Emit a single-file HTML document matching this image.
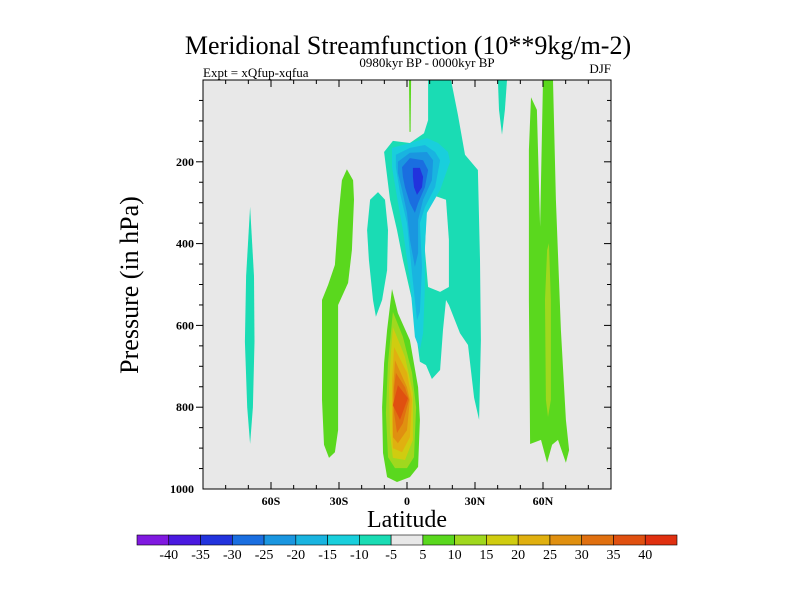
<!DOCTYPE html>
<html><head><meta charset="utf-8"><style>
html,body{margin:0;padding:0;background:#fff;}
svg{display:block;}
text{font-family:"Liberation Serif",serif;fill:#000;}
</style></head><body>
<svg id="chart" width="800" height="600" viewBox="0 0 800 600">
<text x="408" y="54" font-size="26" text-anchor="middle">Meridional Streamfunction (10**9kg/m-2)</text>
<text x="203" y="77" font-size="13">Expt = xQfup-xqfua</text>
<text x="427" y="67" font-size="13" text-anchor="middle">0980kyr BP - 0000kyr BP</text>
<text x="611" y="73" font-size="13" text-anchor="end">DJF</text>
<rect x="203" y="80" width="408" height="409" fill="#e8e8e8"/>
<g id="contours"></g>
<rect x="203" y="80" width="408" height="409" fill="none" stroke="#000" stroke-width="1"/>
<g id="axes"></g>
<text transform="translate(138,285) rotate(-90)" font-size="26" text-anchor="middle">Pressure (in hPa)</text>
<text x="407" y="527" font-size="24" text-anchor="middle">Latitude</text>
<g id="colorbar"></g>
</svg>
<script>
// ---- data ----
const levels = [-40,-35,-30,-25,-20,-15,-10,-5,5,10,15,20,25,30,35,40];
const levelColors = ["#8019e0","#4a19e0","#2233dd","#1a6ee0","#1a96e0","#19b4e0","#19cfdc","#1adcb4","#e8e8e8","#5ad81e","#a0d81e","#d0cc10","#e0b010","#e09010","#e07010","#e05010","#e03010"];
const xTickLabels = ["60S","30S","0","30N","60N"];
const xTickLats = [-60,-30,0,30,60];
const yTickLabels = ["200","400","600","800","1000"];
const yTickVals = [200,400,600,800,1000];
// contour regions: band index into levelColors, polygon vertices as [lat, hPa]
const regionTealSH = {band:7, pts:[[-69.2,310],[-67.5,480],[-67.3,640],[-68,800],[-69.2,890],[-70.5,800],[-71.5,640],[-71,480]]};
const regionGreenSH = {band:9, pts:[[-26.5,218],[-23.8,245],[-23.4,293],[-24.3,416],[-26,496],[-30.4,550],[-30.4,856],[-31.8,910],[-34.4,924],[-36.6,892],[-37.5,782],[-37.5,538],[-34.8,501],[-31.8,452],[-30.4,342],[-28.7,245]]};
const regionTealEq = {band:7, pts:[[-12.8,274],[-9.7,293],[-8.4,367],[-8.8,465],[-11,538],[-13.7,579],[-15,538],[-16.8,440],[-17.6,367],[-16.3,293]]};
const regionTealMain = {band:7, pts:[[9.3,0],[19.4,0],[22.5,86],[25.6,183],[31.3,220],[32.2,440],[32.6,636],[31.8,831],[29.6,777],[26.9,648],[23.4,619],[18.5,550],[17.2,538],[15.9,611],[14.6,709],[11,731],[8.4,697],[5.7,689],[4.4,636],[2.2,538],[-1.8,440],[-4.4,367],[-7.5,293],[-10.1,176],[-6.2,149],[1.3,154],[7.5,130],[9.3,98]]};
const regionGap = {band:8, pts:[[8.8,293],[12.8,284],[17.2,293],[18.5,391],[18.5,506],[14.6,518],[9.3,506],[7.9,416]]};
const regionNeg10 = {band:6, pts:[[-6.6,166],[1.3,154],[8.8,142],[13.7,154],[18.1,176],[19,200],[14.6,269],[8.8,325],[7.9,408],[7.9,506],[7.1,619],[5.7,660],[3.5,628],[1.3,489],[-1.8,367],[-4.4,286],[-6.6,213]]};
const regionNeg15 = {band:5, pts:[[-4.9,183],[1.3,166],[7.9,159],[12.4,176],[14.6,196],[12.4,262],[7.9,311],[5.7,350],[6.6,457],[5.7,567],[4.4,587],[2.2,472],[0,350],[-3.1,276],[-4.9,213]]};
const regionNeg20 = {band:4, pts:[[-4,200],[1.3,178],[8.8,176],[11.5,196],[11,245],[7.1,293],[4.9,342],[4.9,423],[3.5,457],[1.3,391],[0,325],[-2.2,269],[-4,227]]};
const regionNeg25 = {band:3, pts:[[-2.2,213],[1.3,191],[7.1,196],[9.3,220],[7.9,262],[4.9,301],[3.5,325],[1.3,301],[-0.9,262],[-1.8,237]]};
const regionNeg30 = {band:2, pts:[[2.6,215],[5.7,215],[7.1,237],[6.6,262],[4.4,281],[3.1,262],[2.6,237]]};
const regionTealNH = {band:7, pts:[[40.1,0],[44.1,0],[43.2,73],[41.9,134],[40.6,73]]};
const regionGreenTop = {band:9, pts:[[0.9,0],[1.8,0],[1.6,127],[1.1,127]]};
const regionGreenNH = {band:9, pts:[[54.7,42],[57.3,73],[58.7,359],[60,0],[64.4,0],[65.7,293],[67.9,611],[70.1,831],[71.5,905],[70.1,936],[66.6,880],[64,892],[61.8,936],[59.1,880],[54.3,890],[53.8,538],[53.8,171]]};
const regionPos10NH = {band:10, pts:[[61.8,416],[62.6,399],[63.5,538],[63.5,782],[62.2,824],[61.3,782],[60.9,538]]};
const regionPos5 = {band:9, pts:[[-6.6,511],[-4,570],[1.3,636],[4.9,751],[5.7,831],[4.9,946],[1.3,971],[-4.4,983],[-8.8,971],[-10.6,912],[-11,800],[-10.1,692],[-8.8,611]]};
const regionPos10 = {band:10, pts:[[-6.2,567],[-1.8,628],[2.2,716],[4,800],[3.1,922],[0,949],[-5.3,949],[-8.4,922],[-9.3,814],[-8.4,692]]};
const regionPos15 = {band:11, pts:[[-6.2,604],[-0.9,677],[2.6,765],[2.6,880],[-0.9,929],[-6.2,924],[-7.5,863],[-7.9,751],[-7.1,669]]};
const regionPos20 = {band:12, pts:[[-5.7,653],[0,716],[2.2,782],[1.3,873],[-2.2,910],[-6.2,900],[-6.6,831],[-6.6,734]]};
const regionPos25 = {band:13, pts:[[-5.3,685],[0,751],[1.3,782],[0,856],[-4,888],[-6.2,873],[-6.2,765]]};
const regionPos30 = {band:14, pts:[[-4.9,716],[-0.9,751],[0.9,782],[-1.8,839],[-4.4,863],[-5.7,814],[-5.7,751]]};
const regionPos35 = {band:15, pts:[[-4,746],[0.4,778],[-3.1,831],[-6.2,795]]};
const regions = [regionTealSH,regionGreenSH,regionTealEq,regionTealMain,regionGap,regionNeg10,regionNeg15,regionNeg20,regionNeg25,regionNeg30,regionTealNH,regionGreenTop,regionGreenNH,regionPos10NH,regionPos5,regionPos10,regionPos15,regionPos20,regionPos25,regionPos30,regionPos35];
const regionNames = ["contour-teal-60s","contour-green-30s","contour-teal-10s","contour-negative-5","contour-gap","contour-negative-10","contour-negative-15","contour-negative-20","contour-negative-25","contour-negative-30","contour-teal-40n","contour-green-top","contour-green-60n","contour-positive-10-60n","contour-positive-5","contour-positive-10","contour-positive-15","contour-positive-20","contour-positive-25","contour-positive-30","contour-positive-35"];

// ---- axes ----
const X0=203, X1=611, Y0=80, Y1=489;
function xScale(lat){return X0+(lat+90)/180*(X1-X0);}
function yScale(p){return Y0+p/1000*(Y1-Y0);}
const NS="http://www.w3.org/2000/svg";
function mk(tag,attrs,parent){const e=document.createElementNS(NS,tag);for(const k in attrs)e.setAttribute(k,attrs[k]);parent.appendChild(e);return e;}

const cg=document.getElementById('contours');
regions.forEach((r,i)=>{
  const pts=r.pts.map(v=>xScale(v[0]).toFixed(1)+","+yScale(v[1]).toFixed(1)).join(" ");
  const el=mk('polygon',{points:pts,fill:levelColors[r.band]},cg);
  
  
});

const ag=document.getElementById('axes');
for(let lat=-80;lat<=80;lat+=10){
  const x=xScale(lat), major=(lat%30===0);
  const L=major?7:4;
  const t1=mk('line',{x1:x,y1:Y1,x2:x,y2:Y1-L,stroke:"#000","stroke-width":1},ag);
  
  
  const t2=mk('line',{x1:x,y1:Y0,x2:x,y2:Y0+L,stroke:"#000","stroke-width":1},ag);
  
  
}
xTickLabels.forEach((s,i)=>{
  const t=mk('text',{x:xScale(xTickLats[i]),y:505,"font-size":12,"font-weight":"bold","text-anchor":"middle"},ag);
  t.textContent=s;
  
  
});
for(let p=50;p<1000;p+=50){
  const y=yScale(p), major=(p%200===0);
  const L=major?7:4;
  const t1=mk('line',{x1:X0,y1:y,x2:X0-L,y2:y,stroke:"#000","stroke-width":1},ag);
  
  
  const t2=mk('line',{x1:X1,y1:y,x2:X1-L,y2:y,stroke:"#000","stroke-width":1},ag);
  
  
}
yTickLabels.forEach((s,i)=>{
  const t=mk('text',{x:194,y:yScale(yTickVals[i])+4,"font-size":12,"font-weight":"bold","text-anchor":"end"},ag);
  t.textContent=s;
  
  
});

// ---- colorbar ----
const cb=document.getElementById('colorbar');
const CB0=137, CB1=677, CBY=535, CBH=10, bw=(CB1-CB0)/levelColors.length;
levelColors.forEach((c,i)=>{
  const r=mk('rect',{x:CB0+i*bw,y:CBY,width:bw,height:CBH,fill:c,stroke:"#000","stroke-width":0.6},cb);
  
  
});
levels.forEach((v,i)=>{
  const t=mk('text',{x:CB0+(i+1)*bw,y:CBY+CBH+14,"font-size":14,"text-anchor":"middle"},cb);
  t.textContent=String(v);
  
  
});
</script>
</body></html>
